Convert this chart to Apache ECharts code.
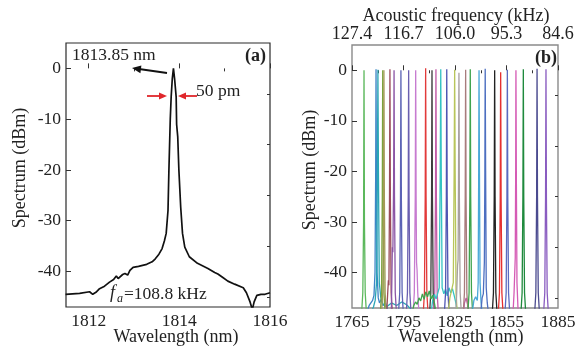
<!DOCTYPE html>
<html>
<head>
<meta charset="utf-8">
<script src="https://cdn.jsdelivr.net/npm/echarts@6/dist/echarts.min.js"></script>
<style>
  html, body { margin: 0; padding: 0; background: #fff; }
  #chart { width: 586px; height: 349px; }
</style>
</head>
<body>
<div id="chart"></div>
<script>
// panel (a): single line at 1813.85 nm
const wavelengthA = [1811.49, 1811.8, 1812.02, 1812.09, 1812.16, 1812.24, 1812.35, 1812.46, 1812.55, 1812.61,
  1812.65, 1812.69, 1812.75, 1812.8, 1812.86, 1812.91, 1812.98, 1813.1, 1813.28, 1813.4,
  1813.47, 1813.55, 1813.62, 1813.67, 1813.71, 1813.75, 1813.77, 1813.8, 1813.82, 1813.845,
  1813.87, 1813.895, 1813.93, 1813.94, 1813.955, 1813.965, 1813.99, 1814.03, 1814.07, 1814.12,
  1814.22, 1814.4, 1814.63, 1814.78, 1814.85, 1814.96, 1815.07, 1815.22, 1815.41, 1815.48,
  1815.56, 1815.61, 1815.65, 1815.71, 1815.8, 1815.89, 1816];
const spectrumA = [-44.5, -44.3, -44.0, -44.5, -44.1, -43.4, -42.9, -42.1, -41.6, -40.9,
  -41.4, -41.2, -40.6, -40.4, -40.7, -39.8, -39.2, -39.0, -38.6, -38.1,
  -37.5, -36.6, -35.5, -34.0, -32.5, -28, -20, -10, -5.6, -2,
  0, -2, -5.6, -11, -12.5, -13.5, -20, -27.3, -32.5, -35.2,
  -37.1, -38.4, -39.4, -40.2, -40.5, -41.2, -41.9, -42.5, -43.2, -44.2,
  -46, -47.5, -46, -44.7, -44.5, -44.5, -44.2];
const ticksA = [1812, 1814, 1816];
const minorTicksA = [1813, 1815];

// panel (b): tuned lines, [wavelength nm, dBm]
const spectraB = [
  [[1770.6,-48],[1771.3,-44],[1771.75,-30],[1771.92,-8],[1772.0,0],[1772.08,-8],[1772.25,-30],[1772.7,-44],[1773.4,-48]],
  [[1774,-47.5],[1775,-46.5],[1776,-46.8],[1777,-45.5],[1777.8,-44.5],[1778.4,-40],[1778.8,-20],[1778.93,-6],[1779.0,0.2],[1779.07,-6],[1779.2,-20],[1779.6,-40],[1780.3,-45],[1781,-46],[1782,-45.3],[1783,-46.5],[1784.5,-46],[1786,-47.5]],
  [[1776,-48],[1777.5,-46.8],[1778.5,-45.5],[1779.3,-42],[1779.8,-20],[1780.03,-5],[1780.1,0.1],[1780.17,-5],[1780.4,-20],[1780.9,-42],[1781.8,-45],[1783,-46.2],[1785,-46.8],[1788,-46],[1791,-46.5],[1794,-45.8],[1797,-46.4],[1800,-47.5]],
  [[1781.5,-48],[1782.2,-44],[1782.65,-25],[1782.83,-6],[1782.9,0],[1782.97,-6],[1783.15,-25],[1783.6,-44],[1784.3,-48]],
  [[1782.2,-48],[1782.9,-44],[1783.35,-25],[1783.53,-6],[1783.6,0],[1783.67,-6],[1783.85,-25],[1784.3,-44],[1785,-48]],
  [[1785.2,-48],[1785.8,-44],[1786.2,-41.5],[1786.5,-42.5],[1786.85,-25],[1787.03,-6],[1787.1,0.2],[1787.17,-6],[1787.35,-25],[1787.8,-44],[1788.5,-48]],
  [[1787.9,-48],[1788.2,-42],[1788.5,-35],[1788.8,-36],[1789.25,-22],[1789.43,-6],[1789.5,0],[1789.57,-6],[1789.75,-25],[1790.2,-44],[1790.9,-48]],
  [[1792.1,-48],[1792.8,-44],[1793.25,-25],[1793.43,-6],[1793.5,0],[1793.57,-6],[1793.75,-25],[1794.2,-44],[1794.9,-48]],
  [[1796.6,-48],[1797.3,-44],[1797.75,-25],[1797.93,-6],[1798.0,0],[1798.07,-6],[1798.25,-25],[1798.7,-44],[1799.4,-48]],
  [[1800.6,-48],[1801.3,-44],[1801.85,-25],[1802.03,-6],[1802.1,0],[1802.17,-6],[1802.35,-25],[1802.6,-38],[1802.9,-39.5],[1803.3,-44],[1804,-48]],
  [[1806.5,-48],[1807.2,-44],[1807.65,-25],[1807.83,-6],[1807.9,0.4],[1807.97,-6],[1808.15,-25],[1808.6,-44],[1809.3,-48]],
  [[1810.2,-48],[1810.9,-44],[1811.35,-25],[1811.53,-6],[1811.6,0],[1811.67,-6],[1811.85,-25],[1812.3,-44],[1813,-48]],
  [[1812.5,-48],[1813.2,-44],[1813.65,-25],[1813.83,-6],[1813.9,0.2],[1813.97,-6],[1814.15,-25],[1814.6,-44],[1815.3,-48],[1830,-48],[1830.5,-46],[1831.5,-45],[1832.5,-46.5],[1833,-48]],
  [[1811,-48],[1812,-45.5],[1813,-44.3],[1814,-45.2],[1815,-44],[1815.8,-43],[1816.4,-20],[1816.62,-5],[1816.7,0.2],[1816.78,-5],[1817,-20],[1817.5,-43],[1818.5,-44.2],[1819.5,-43.3],[1820.5,-44.6],[1821.5,-43],[1822.5,-44],[1823.5,-43.2],[1824.5,-44.5],[1825.5,-46],[1826.5,-48]],
  [[1818.8,-48],[1819.5,-44],[1819.95,-25],[1820.13,-6],[1820.2,0.2],[1820.27,-6],[1820.45,-25],[1820.9,-44],[1821.6,-48]],
  [[1821,-48],[1822,-45],[1823,-43.5],[1824,-42],[1824.5,-20],[1824.72,-5],[1824.8,0.1],[1824.88,-5],[1825.1,-20],[1825.6,-44],[1826.3,-48]],
  [[1825.5,-48],[1826,-44],[1826.5,-38.5],[1826.8,-37.5],[1827.05,-22],[1827.22,-6],[1827.3,-0.5],[1827.38,-6],[1827.55,-25],[1828,-44],[1828.7,-48]],
  [[1829.8,-48],[1830.5,-44],[1830.95,-25],[1831.13,-6],[1831.2,0.1],[1831.27,-6],[1831.45,-25],[1831.9,-44],[1832.6,-48]],
  [[1800,-48],[1801,-46.5],[1802,-45.8],[1803,-46.3],[1804,-45],[1805,-45.6],[1806,-44.2],[1807,-45.3],[1808,-43.8],[1809,-44.8],[1810,-43.6],[1811,-45.2],[1812,-44.5],[1813,-46],[1814,-48],[1832.5,-48],[1833.2,-44],[1833.65,-25],[1833.83,-6],[1833.9,0.2],[1833.97,-6],[1834.15,-25],[1834.6,-44],[1835.3,-48]],
  [[1835,-48],[1836,-45.5],[1837,-44.8],[1838,-45.5],[1838.5,-42],[1838.8,-20],[1838.93,-5],[1839,0],[1839.07,-5],[1839.25,-20],[1839.6,-42],[1840.2,-46],[1841,-48]],
  [[1840,-48],[1840.8,-45],[1841.5,-44.2],[1842.1,-38],[1842.4,-20],[1842.53,-5],[1842.6,0.3],[1842.67,-5],[1842.85,-20],[1843.2,-43],[1843.8,-46],[1844.5,-48]],
  [[1846.7,-48],[1847.4,-44],[1847.85,-25],[1848.03,-6],[1848.1,0],[1848.17,-6],[1848.35,-25],[1848.8,-44],[1849.5,-48]],
  [[1850.2,-48],[1850.9,-44],[1851.35,-25],[1851.53,-6],[1851.6,-0.4],[1851.67,-6],[1851.85,-25],[1852.3,-44],[1853,-48]],
  [[1854.1,-48],[1854.8,-44],[1855.25,-25],[1855.43,-6],[1855.5,0.1],[1855.57,-6],[1855.75,-25],[1856.2,-44],[1856.9,-48]],
  [[1858.8,-48],[1859.4,-44],[1859.8,-40],[1860.1,-37],[1860.35,-20],[1860.45,-5],[1860.5,0],[1860.57,-5],[1860.75,-22],[1861.1,-42],[1861.8,-48]],
  [[1863.4,-48],[1864.1,-44],[1864.55,-25],[1864.73,-6],[1864.8,0.2],[1864.87,-6],[1865.05,-25],[1865.5,-44],[1866.2,-48]],
  [[1871.4,-48],[1872.1,-44],[1872.55,-25],[1872.73,-6],[1872.8,0.3],[1872.87,-6],[1873.05,-25],[1873.5,-44],[1874.2,-48]],
  [[1876.6,-48],[1877.3,-44],[1877.75,-25],[1877.93,-6],[1878.0,0.2],[1878.07,-6],[1878.25,-25],[1878.7,-44],[1879.4,-48]]
];
const ticksB = [1765, 1795, 1825, 1855, 1885];
const minorTicksB = [1780, 1810, 1840, 1870];
const freqLabels = ['127.4', '116.7', '106.0', '95.3', '84.6'];
const dbTicks = [-40, -30, -20, -10, 0];
const dbMinorTicks = [-45, -35, -25, -15, -5];

const colorsB = ['#5cb85c', '#3d85c6', '#2ba6b5', '#7aa33e', '#a39a56', '#9b4a5a', '#8b55a5',
  '#5b63b5', '#6a5fb0', '#c77bd0', '#e23a3a', '#3c3c3c', '#c35da8', '#35c3c3', '#4f56b3',
  '#b8c55a', '#a8a0a0', '#a87c7c', '#3fa34d', '#4aa8d8', '#4d6fc0', '#222222', '#e53030',
  '#5a6ac0', '#d55bb5', '#1f8a3d', '#4b4b8f', '#8a5cc0'];

const FONT = 'Liberation Serif';
const labelStyle = { fontFamily: FONT, fontSize: 17.5, color: '#222' };

const chart = echarts.init(document.getElementById('chart'), null, { renderer: 'canvas' });

const xAxis = (grid, min, max, major, minor) => [
  {
    type: 'value', gridIndex: grid, min, max,
    axisLine: { show: false },
    splitLine: { show: false },
    axisTick: { inside: true, length: 5, customValues: major, lineStyle: { color: '#333' } },
    axisLabel: Object.assign({ customValues: major, margin: 5, formatter: (v) => String(v) }, labelStyle)
  },
  {
    type: 'value', gridIndex: grid, min, max,
    axisLine: { show: false }, splitLine: { show: false }, axisLabel: { show: false },
    axisTick: { inside: true, length: 3, customValues: minor, lineStyle: { color: '#333' } }
  }
];
const yAxis = (grid) => [
  {
    type: 'value', gridIndex: grid, min: -47, max: 5,
    axisLine: { show: false }, splitLine: { show: false },
    axisTick: { inside: true, length: 5, customValues: dbTicks, lineStyle: { color: '#333' } },
    axisLabel: Object.assign({ customValues: dbTicks, margin: 5 }, labelStyle)
  },
  {
    type: 'value', gridIndex: grid, min: -47, max: 5,
    axisLine: { show: false }, splitLine: { show: false }, axisLabel: { show: false },
    axisTick: { inside: true, length: 3, customValues: dbMinorTicks, lineStyle: { color: '#333' } }
  }
];

const txt = (x, y, text, opts, rotation) => ({
  type: 'text', x, y, z: 100, rotation: rotation || 0,
  style: Object.assign({
    text, fill: '#222', font: '17.5px "' + FONT + '"',
    textAlign: 'left', textVerticalAlign: 'middle'
  }, opts || {})
});
const title = '18px "' + FONT + '"';

chart.setOption({
  animation: false,
  backgroundColor: '#fff',
  grid: [
    { left: 66, top: 43, width: 204, height: 264, show: true, borderColor: '#2a2a2a', borderWidth: 1.2 },
    { left: 352, top: 45, width: 206, height: 263, show: true, borderColor: '#8a8a8a', borderWidth: 1.4 }
  ],
  xAxis: [
    ...xAxis(0, 1811.5, 1816, ticksA, minorTicksA),
    ...xAxis(1, 1765, 1885, ticksB, minorTicksB),
    {
      type: 'value', gridIndex: 1, min: 1765, max: 1885, position: 'top',
      axisLine: { show: false }, splitLine: { show: false }, axisTick: { show: false },
      axisLabel: {
        customValues: ticksB, margin: 2, fontSize: 18, fontFamily: FONT, color: '#222',
        formatter: (v) => freqLabels[ticksB.indexOf(v)]
      }
    }
  ],
  yAxis: [...yAxis(0), ...yAxis(1)],
  series: [
    {
      type: 'line', xAxisIndex: 0, yAxisIndex: 0, showSymbol: false, clip: true,
      data: wavelengthA.map((w, i) => [w, spectrumA[i]]),
      lineStyle: { color: '#111', width: 1.7 }
    },
    ...spectraB.map((pts, i) => ({
      type: 'line', xAxisIndex: 2, yAxisIndex: 2, showSymbol: false, clip: true,
      data: pts,
      lineStyle: { color: colorsB[i], width: 1.3 }
    }))
  ],
  graphic: [
    // axis titles
    txt(20, 168, 'Spectrum (dBm)', { textAlign: 'center', font: title }, Math.PI / 2),
    txt(310, 170, 'Spectrum (dBm)', { textAlign: 'center', font: title }, Math.PI / 2),
    txt(176, 337, 'Wavelength (nm)', { textAlign: 'center', font: title }),
    txt(461, 337, 'Wavelength (nm)', { textAlign: 'center', font: title }),
    txt(456, 16, 'Acoustic frequency (kHz)', { textAlign: 'center', font: title }),
    // panel labels
    txt(266, 56, '(a)', { textAlign: 'right', font: 'bold 18px "' + FONT + '"' }),
    txt(557, 58, '(b)', { textAlign: 'right', font: 'bold 18px "' + FONT + '"' }),
    // annotations panel (a)
    txt(72, 55, '1813.85 nm'),
    txt(196, 91, '50 pm'),
    txt(110, 293, 'f', { font: 'italic 18px "' + FONT + '"' }),
    txt(117, 299, 'a', { font: 'italic 12px "' + FONT + '"' }),
    txt(124, 294, '=108.8 kHz'),
    { type: 'line', z: 100, shape: { x1: 167, y1: 73, x2: 139, y2: 69 }, style: { stroke: '#111', lineWidth: 1.8 } },
    { type: 'polygon', z: 100, shape: { points: [[132, 68], [141.4, 65.4], [140.4, 73.2]] }, style: { fill: '#111' } },
    { type: 'line', z: 100, shape: { x1: 147, y1: 96, x2: 161, y2: 96 }, style: { stroke: '#e0262b', lineWidth: 1.8 } },
    { type: 'polygon', z: 100, shape: { points: [[167, 96], [159, 92.5], [159, 99.5]] }, style: { fill: '#e0262b' } },
    { type: 'line', z: 100, shape: { x1: 197, y1: 96, x2: 184, y2: 96 }, style: { stroke: '#e0262b', lineWidth: 1.8 } },
    { type: 'polygon', z: 100, shape: { points: [[178, 96], [186, 92.5], [186, 99.5]] }, style: { fill: '#e0262b' } }
  ]
});
</script>
</body>
</html>
